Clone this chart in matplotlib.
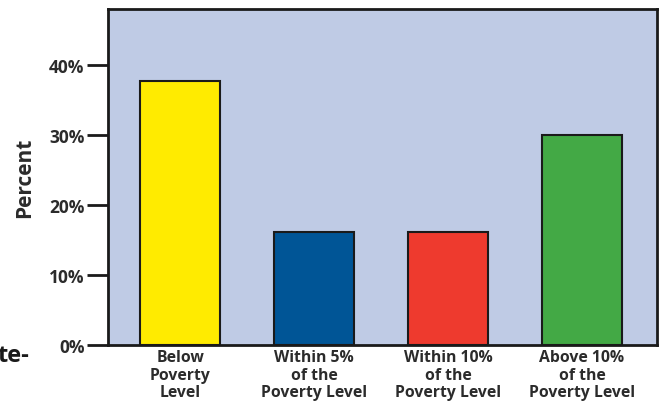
import numpy as np
import matplotlib
matplotlib.use("Agg")
import matplotlib.pyplot as plt

# poverty-level groups and their share (%)
categories = ["Below\nPoverty\nLevel", "Within 5%\nof the\nPoverty Level",
              "Within 10%\nof the\nPoverty Level", "Above 10%\nof the\nPoverty Level"]
values = [37.7, 16.1, 16.1, 30.0]
bar_colors = ["#FFEB00", "#005596", "#EE3A2E", "#43A945"]
yticks = [0, 10, 20, 30, 40]
ytick_labels = ["0%", "10%", "20%", "30%", "40%"]

plt.rcParams['font.family'] = ['Open Sans', 'DejaVu Sans']
txt = "#2b2b2b"

fig = plt.figure(figsize=(6.61, 4.14), dpi=100)
ax = fig.add_axes([0.1634, 0.1643, 0.8306, 0.8115])
ax.set_facecolor("#BFCBE5")

x = np.arange(len(values))
ax.bar(x, values, width=0.6, color=bar_colors, edgecolor="#1a1a1a", linewidth=1.5, zorder=3)

ax.set_xlim(-0.54, 3.56)
ax.set_ylim(0, 48)
ax.set_yticks(yticks)
ax.set_yticklabels(ytick_labels, fontsize=12.5, fontweight='bold', color=txt)
ax.set_xticks(x)
ax.set_xticklabels(categories, fontsize=11.3, fontweight='bold', color=txt, linespacing=1.12)
ax.tick_params(axis='y', length=15, width=2, color="#1a1a1a", pad=2)
ax.tick_params(axis='x', length=0, pad=3)
for s in ax.spines.values():
    s.set_linewidth(2)
    s.set_color("#1a1a1a")

ax.set_ylabel("Percent", fontsize=15, fontweight='bold', color=txt, labelpad=10)

# text spilling over from the neighbouring column
fig.text(-0.004, 0.125, "te-", fontsize=17, fontweight='bold', color="#1a1a1a")
fig.text(-0.004, -0.045, "w", fontsize=17, fontweight='bold', color="#1a1a1a")

fig.savefig("out.png", dpi=100)
